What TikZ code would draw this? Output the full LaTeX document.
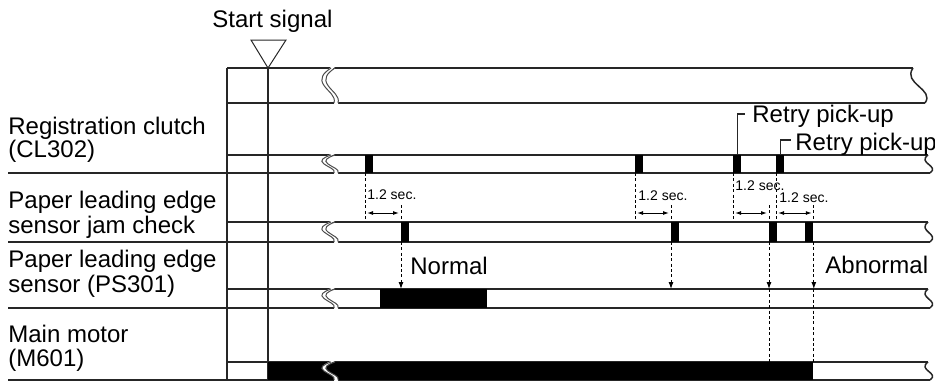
\documentclass[tikz,border=0pt]{standalone}
\usepackage{fontspec}
\setmainfont{Liberation Sans}
\usetikzlibrary{arrows.meta,calc}

\tikzset{
  sigline/.style={line width=0.75pt,black!85},
  brkline/.style={line width=0.5pt,black!70},
  regpulse/.style={fill=black,inner sep=0pt,minimum width=4pt,minimum height=9pt,anchor=south west},
  jampulse/.style={regpulse,minimum height=10pt},
  jamdash/.style={line width=0.5pt,dash pattern=on 1.5pt off 1.2pt},
  downarrow/.style={jamdash,-{Latex[length=3.5pt,width=2.5pt]}},
  secarrow/.style={line width=0.5pt,{Latex[length=3pt,width=2pt]}-{Latex[length=3pt,width=2pt]},shorten <=1pt,shorten >=1pt},
  seclbl/.style={font=\fontsize{7}{8}\selectfont,anchor=base west,inner sep=0pt},
  rowlbl/.style={anchor=base west,inner sep=0pt},
}

% double S break across a row (top, bottom)
\newcommand\rowbreak[2]{%
  \pgfmathsetmacro\bh{#2-#1}
  \fill[white] (331,#1-1) .. controls (323,#1+0.15*\bh) and (319,#1+0.3*\bh) .. (324,#1+0.5*\bh)
    .. controls (329,#1+0.7*\bh) and (336,#1+0.8*\bh) .. (334,#2+1)
    -- (338,#2+1) .. controls (340,#1+0.8*\bh) and (333,#1+0.7*\bh) .. (328,#1+0.5*\bh)
    .. controls (323,#1+0.3*\bh) and (327,#1+0.15*\bh) .. (335,#1-1) -- cycle;
  \draw[brkline] (331,#1) .. controls (323,#1+0.15*\bh) and (319,#1+0.3*\bh) .. (324,#1+0.5*\bh)
    .. controls (329,#1+0.7*\bh) and (336,#1+0.8*\bh) .. (334,#2);
  \draw[brkline] (335,#1) .. controls (327,#1+0.15*\bh) and (323,#1+0.3*\bh) .. (328,#1+0.5*\bh)
    .. controls (333,#1+0.7*\bh) and (340,#1+0.8*\bh) .. (338,#2);
}
% single S at the right end (x top, top, x bottom, bottom)
\newcommand\rowend[4]{%
  \pgfmathsetmacro\bh{#4-#2}
  \draw[sigline] (#1,#2) .. controls (#1-11,#2+0.45*\bh) and (#3+10,#2+0.6*\bh) .. (#3,#4);
}

\begin{document}
\begin{tikzpicture}[x=0.5pt,y=-0.5pt,font=\fontsize{12}{14}\selectfont]
\useasboundingbox (0,0) rectangle (935,381);

\coordinate (dbeg) at (0,205);
\coordinate (sa) at (0,213);
\coordinate (dend) at (0,220);
\coordinate (ps) at (0,289);
\coordinate (mm) at (0,362);

% grid
\draw[sigline] (227,68) -- (913,68) (227,103) -- (925,103);
\foreach \hy/\ly in {155/173,222/242,289/308,362/380}{
  \draw[sigline] (227,\hy) -- (928,\hy) (8,\ly) -- (930,\ly);
}
\draw[sigline] (227,68) -- (227,380) (268,68) -- (268,380);

% start signal
\node[rowlbl] (start) at (212,27) {Start signal};
\coordinate (apex) at (268,68);
\draw[sigline,line width=0.5pt] (251,40) -- (286,40) -- (apex) -- cycle;

% pulses
\foreach \x/\n in {365/r1,635/r2,733/r3,776/r4}{
  \node[regpulse] (\n) at (\x,173) {};
}
\foreach \x/\n in {401/j1,671/j2,769/j3,805/j4}{
  \node[jampulse] (\n) at (\x,242) {};
}
\fill (380,289) rectangle (487,308);
\fill (268,362) rectangle (813,380);

% breaks
\foreach \t/\b in {68/103,155/173,222/242,289/308,362/380}{
  \rowbreak{\t}{\b}
}
\rowend{913}{68}{925}{103}
\foreach \t/\b in {155/173,222/242,289/308,362/380}{
  \rowend{928}{\t}{930}{\b}
}

% 1.2 sec. checks
\foreach \r/\j/\ja/\lx/\ly in {r1/j1/north west/367/199,r2/j2/north west/638/200,
    r3/j3/north west/735/190,r4/j4/north east/779/202}{
  \draw[jamdash] (\r.south west) -- (\r.south west |- dend);
  \draw[jamdash] (\j.\ja |- dbeg) -- (\j.\ja);
  \draw[secarrow] (\r.south west |- sa) -- (\j.\ja |- sa);
  \node[seclbl] at (\lx,\ly) {1.2 sec.};
}

% sensor checks
\foreach \j/\ja in {j1/south west,j2/south west,j3/south west,j4/south east}{
  \draw[downarrow] (\j.\ja) -- (\j.\ja |- ps);
}
\draw[jamdash] (j3.south west |- ps) -- (j3.south west |- mm);
\draw[jamdash] (j4.south east |- ps) -- (j4.south east |- mm);

% retry labels
\node[rowlbl] (retry1) at (752,122) {Retry pick-up};
\node[rowlbl] (retry2) at (795,150) {Retry pick-up};
\draw[sigline,line width=0.6pt] (r3.north) |- ([xshift=-3.5pt,yshift=4pt]retry1.base west);
\draw[sigline,line width=0.6pt] (r4.north) |- ([xshift=-2pt,yshift=5pt]retry2.base west);

\node[rowlbl] (normal) at (410,274) {Normal};
\node[rowlbl] (abnormal) at (825,273) {Abnormal};

% row names
\node[rowlbl] (reg1) at (8,134) {Registration clutch};
\node[rowlbl] (reg2) at (8,157) {(CL302)};
\node[rowlbl] (jam1) at (8,208) {Paper leading edge};
\node[rowlbl] (jam2) at (8,233) {sensor jam check};
\node[rowlbl] (pls1) at (8,267) {Paper leading edge};
\node[rowlbl] (pls2) at (8,292) {sensor (PS301)};
\node[rowlbl] (mot1) at (8,342) {Main motor};
\node[rowlbl] (mot2) at (8,366) {(M601)};
\end{tikzpicture}
\end{document}
